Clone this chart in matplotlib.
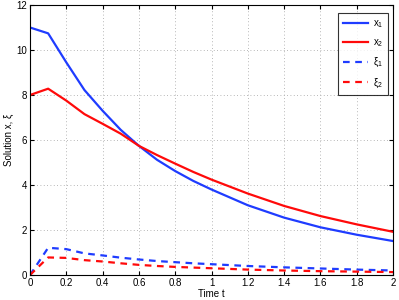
import matplotlib
matplotlib.use("Agg")
import matplotlib.pyplot as plt

t = [0.0, 0.1, 0.2, 0.3, 0.4, 0.5, 0.6, 0.7, 0.8, 0.9, 1.0, 1.2, 1.4, 1.6, 1.8, 2.0]
x1 = [11.0, 10.74, 9.45, 8.22, 7.3, 6.45, 5.74, 5.12, 4.62, 4.18, 3.8, 3.1, 2.55, 2.12, 1.79, 1.51]
x2 = [8.0, 8.28, 7.75, 7.15, 6.72, 6.28, 5.74, 5.33, 4.95, 4.58, 4.24, 3.62, 3.07, 2.62, 2.25, 1.92]
xi1 = [0.0, 1.21, 1.15, 0.96, 0.87, 0.77, 0.69, 0.62, 0.57, 0.52, 0.48, 0.4, 0.34, 0.29, 0.24, 0.2]
xi2 = [0.0, 0.78, 0.76, 0.66, 0.6, 0.52, 0.45, 0.4, 0.36, 0.33, 0.3, 0.24, 0.2, 0.17, 0.15, 0.13]

xticks = [0, 0.2, 0.4, 0.6, 0.8, 1, 1.2, 1.4, 1.6, 1.8, 2]
xticklabels = ["0", "0.2", "0.4", "0.6", "0.8", "1", "1.2", "1.4", "1.6", "1.8", "2"]
yticks = [0, 2, 4, 6, 8, 10, 12]

blue = "#1f3cff"
red = "#ff0a0a"

plt.rcParams['font.family'] = ['Liberation Sans', 'DejaVu Sans']
plt.rcParams['mathtext.fontset'] = 'custom'
plt.rcParams['mathtext.rm'] = 'Liberation Sans'
plt.rcParams['mathtext.it'] = 'Liberation Sans'

fig = plt.figure(figsize=(3.99, 3.0), dpi=100)
ax = fig.add_axes([30/399, 25/300, 363/399, 270/300])

ax.plot(t, x1, color=blue, lw=1.6, label=r"x$_1$")
ax.plot(t, x2, color=red, lw=1.6, label=r"x$_2$")
ax.plot(t, xi1, color=blue, lw=1.6, ls=(0, (3, 2.5)), label=r"$\mathrm{\xi}_1$")
ax.plot(t, xi2, color=red, lw=1.6, ls=(0, (3, 2.5)), label=r"$\mathrm{\xi}_2$")

ax.set_xlim(0, 2)
ax.set_ylim(0, 12)
ax.set_xticks(xticks)
ax.set_xticklabels(xticklabels)
ax.set_yticks(yticks)
ax.tick_params(direction='in', top=True, right=True, labelsize=7, length=3, pad=2)
ax.grid(True, ls=(0, (1, 3)), color='#a0a0a0', lw=0.6)
for s in ax.spines.values():
    s.set_linewidth(0.8)
ax.set_xlabel("Time t", fontsize=7, labelpad=1)
ax.set_ylabel("Solution x, ξ", fontsize=7, labelpad=2)

leg = ax.legend(loc='upper right', fontsize=7, fancybox=False, edgecolor='black',
                handlelength=2.6, handletextpad=0.5, borderaxespad=0.3,
                labelspacing=0.75, borderpad=0.5,
                bbox_to_anchor=(0.995, 0.98))
leg.get_frame().set_linewidth(0.8)

fig.savefig("out.png", dpi=100)
